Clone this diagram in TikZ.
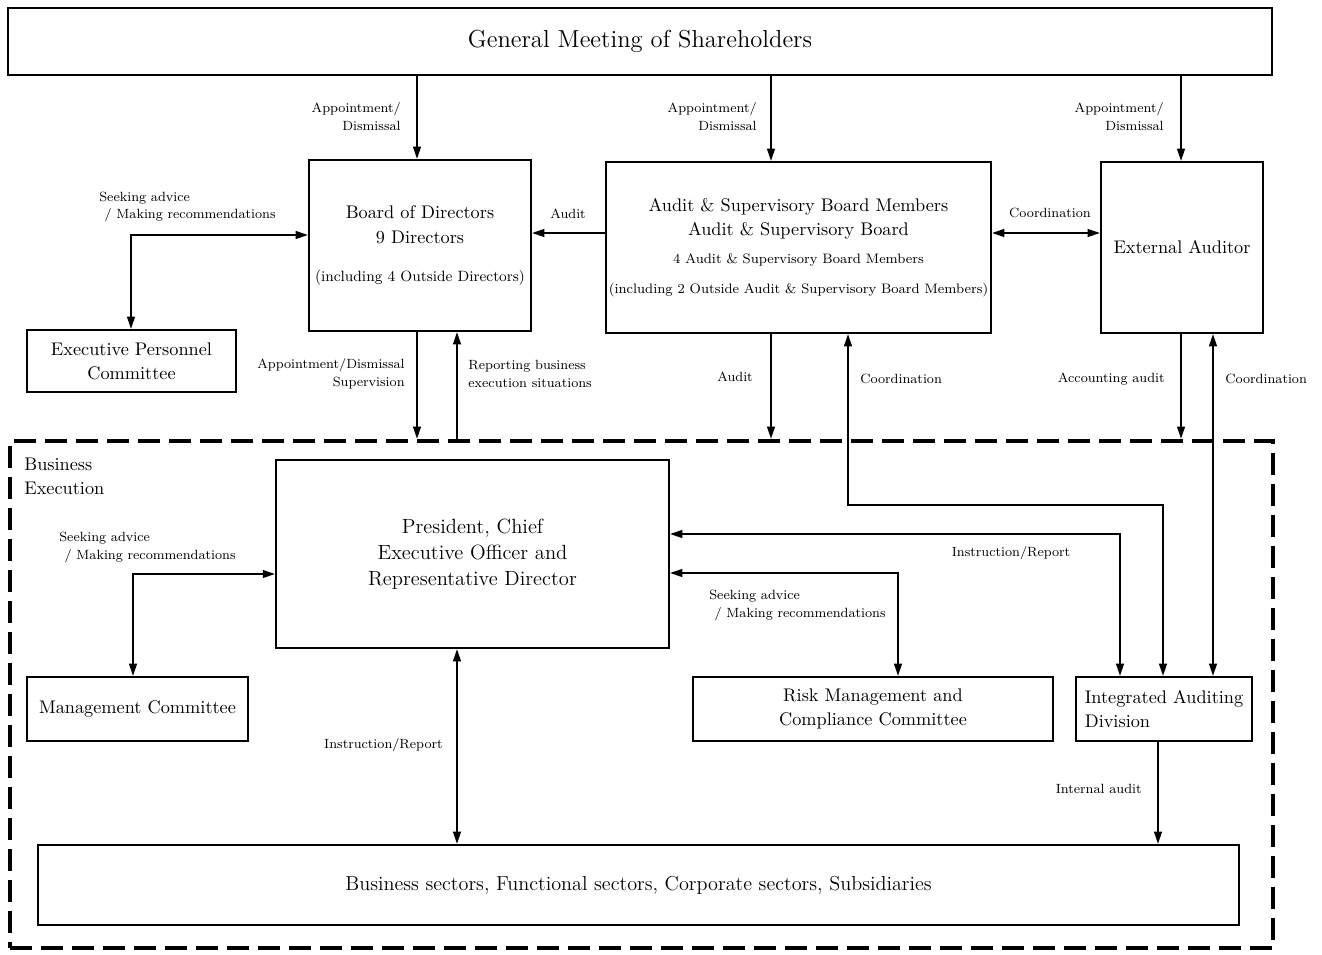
\documentclass[tikz,border=0pt]{standalone}
\usepackage{tikz}
\usetikzlibrary{arrows.meta}
\usetikzlibrary{positioning}
\usetikzlibrary{calc}

\begin{document}
\begin{tikzpicture}[x=0.02cm, y=-0.02cm,
	box/.style={draw, line width=0.9pt, align=center, inner sep=0pt, font=\fontsize{10.4}{13.7}\selectfont},
	lbl/.style={font=\fontsize{7.6}{10.2}\selectfont, inner sep=0pt},
	conn/.style={line width=1.4pt, -{Triangle[length=2.5mm, width=1.5mm]}},
	both/.style={line width=1.4pt, {Triangle[length=2.5mm, width=1.5mm]}-{Triangle[length=2.5mm, width=1.5mm]}}]
	\useasboundingbox (0,0) rectangle (1322,954);

	% business execution frame
	\node[draw, line width=2.2pt, dash pattern=on 0.44cm off 0.18cm, minimum width=25.26cm, minimum height=10.14cm, inner sep=0pt] (exec) at (641.5,694.5) {};
	\node[anchor=north west, align=left, inner sep=0pt, font=\fontsize{10.4}{13.7}\selectfont] (bexlbl) at (24,458) {Business\\Execution};

	% top row
	\node[box, minimum width=25.28cm, minimum height=1.34cm, font=\fontsize{14}{16}\selectfont] (gms) at (640,41.5) {General Meeting of Shareholders};
	\node[box, minimum width=4.44cm, minimum height=3.42cm] (bod) at (420,245.5) {Board of Directors\\9 Directors\\[8pt]{\fontsize{8.5}{10}\selectfont (including 4 Outside Directors)}};
	\node[box, minimum width=7.7cm, minimum height=3.42cm] (asb) at (798.5,247.5) {Audit \& Supervisory Board Members\\Audit \& Supervisory Board\\[2.5pt]{\fontsize{7.8}{10}\selectfont 4 Audit \& Supervisory Board Members}\\[3pt]{\fontsize{7.8}{10}\selectfont (including 2 Outside Audit \& Supervisory Board Members)}};
	\node[box, minimum width=3.24cm, minimum height=3.42cm] (ext) at (1182,247.5) {External Auditor};
	\node[box, minimum width=4.18cm, minimum height=1.24cm] (epc) at (131.5,361) {Executive Personnel\\Committee};

	% inside the frame
	\node[box, minimum width=7.86cm, minimum height=3.76cm, font=\fontsize{11.7}{14.8}\selectfont] (pres) at (472.5,554) {President, Chief\\Executive Officer and\\Representative Director};
	\node[box, minimum width=4.42cm, minimum height=1.28cm] (mgmt) at (137.5,709) {Management Committee};
	\node[box, minimum width=7.2cm, minimum height=1.28cm] (risk) at (873,709) {Risk Management and\\Compliance Committee};
	\node[box, align=left, minimum width=3.52cm, minimum height=1.28cm] (iad) at (1164,709) {Integrated Auditing\\Division};
	\node[box, minimum width=24.02cm, minimum height=1.6cm, font=\fontsize{11.5}{14}\selectfont] (sect) at (638.5,885) {Business sectors, Functional sectors, Corporate sectors, Subsidiaries};

	% columns and rows of the connectors
	\coordinate (xbod) at (417,0);
	\coordinate (xrep) at (457,0);
	\coordinate (xasb) at (771,0);
	\coordinate (xco) at (848,0);
	\coordinate (xext) at (1181,0);
	\coordinate (xco2) at (1213,0);
	\coordinate (xepc) at (131,0);
	\coordinate (xmgmt) at (133,0);
	\coordinate (xrisk) at (898,0);
	\coordinate (xins) at (1120,0);
	\coordinate (xiad) at (1163,0);
	\coordinate (xint) at (1158,0);
	\coordinate (raud) at (0,233);
	\coordinate (radv) at (0,235);
	\coordinate (rjog) at (0,505);
	\coordinate (rins) at (0,534);
	\coordinate (rrisk) at (0,573);
	\coordinate (rmgmt) at (0,574);

	% from the shareholders
	\draw[conn] (gms.south -| xbod) -- (bod.north -| xbod);
	\draw[conn] (gms.south -| xasb) -- (asb.north -| xasb);
	\draw[conn] (gms.south -| xext) -- (ext.north -| xext);
	\node[lbl, anchor=east, align=right] (l1) at (401,117) {Appointment/\\Dismissal};
	\node[lbl, anchor=east, align=right] (l2) at (757,117) {Appointment/\\Dismissal};
	\node[lbl, anchor=east, align=right] (l3) at (1164,117) {Appointment/\\Dismissal};

	% board level
	\draw[conn] (asb.west |- raud) -- (bod.east |- raud);
	\draw[both] (asb.east |- raud) -- (ext.west |- raud);
	\draw[both] (bod.west |- radv) -| (epc.north -| xepc);
	\node[lbl] (l4) at (568,214) {Audit};
	\node[lbl] (l5) at (1050,213) {Coordination};
	\node[lbl, anchor=west, align=left] (l6) at (99,207) {Seeking advice\\\hspace{3pt}/ Making recommendations};

	% into business execution
	\draw[conn] (bod.south -| xbod) -- (exec.north -| xbod);
	\draw[conn] (exec.north -| xrep) -- (bod.south -| xrep);
	\draw[conn] (asb.south -| xasb) -- (exec.north -| xasb);
	\draw[both] (asb.south -| xco) -- (xco |- rjog) -| (iad.north -| xiad);
	\draw[conn] (ext.south -| xext) -- (exec.north -| xext);
	\draw[both] (ext.south -| xco2) -- (iad.north -| xco2);
	\node[lbl, anchor=east, align=right] (l7) at (405,374) {Appointment/Dismissal\\Supervision};
	\node[lbl, anchor=west, align=left] (l8) at (468,374) {Reporting business\\execution situations};
	\node[lbl] (l9) at (735,377) {Audit};
	\node[lbl, anchor=west] (l10) at (860,379) {Coordination};
	\node[lbl, anchor=east] (l11) at (1165,379) {Accounting audit};
	\node[lbl, anchor=west] (l12) at (1225,379) {Coordination};

	% business execution
	\draw[both] (pres.west |- rmgmt) -| (mgmt.north -| xmgmt);
	\draw[both] (pres.east |- rins) -| (iad.north -| xins);
	\draw[both] (pres.east |- rrisk) -| (risk.north -| xrisk);
	\draw[both] (pres.south -| xrep) -- (sect.north -| xrep);
	\draw[conn] (iad.south -| xint) -- (sect.north -| xint);
	\node[lbl, anchor=west, align=left] (l13) at (59,547) {Seeking advice\\\hspace{3pt}/ Making recommendations};
	\node[lbl] (l14) at (1011,553) {Instruction/Report};
	\node[lbl, anchor=west, align=left] (l15) at (709,605) {Seeking advice\\\hspace{3pt}/ Making recommendations};
	\node[lbl, anchor=east] (l16) at (443,745) {Instruction/Report};
	\node[lbl, anchor=east] (l17) at (1142,789) {Internal audit};
\end{tikzpicture}
\end{document}
